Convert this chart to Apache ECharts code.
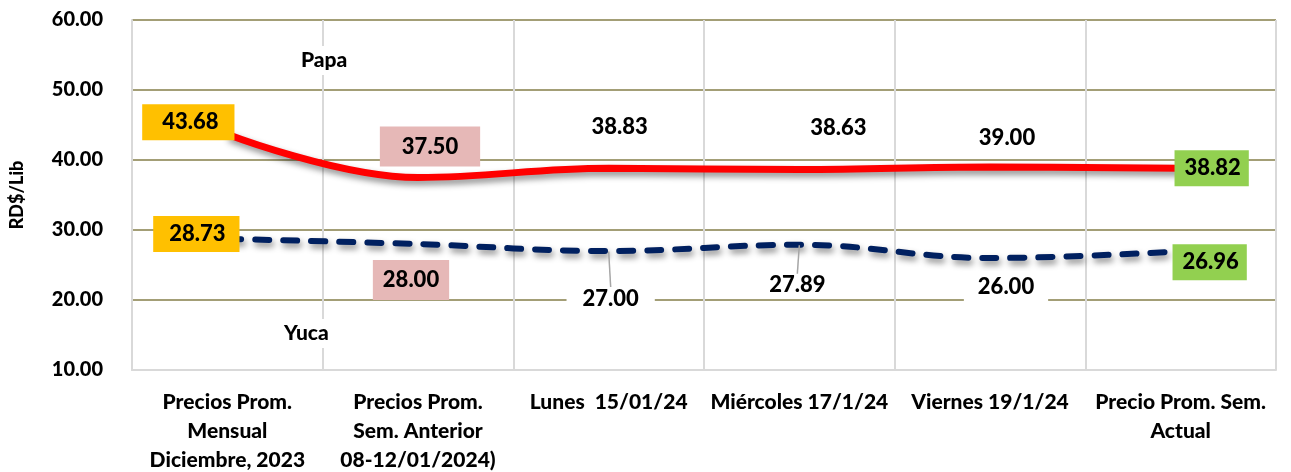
<!DOCTYPE html>
<html>
<head>
<meta charset="utf-8">
<script src="https://cdn.jsdelivr.net/npm/echarts@6/dist/echarts.min.js"></script>
<style>
    html, body { margin: 0; padding: 0; background: #fff; }
    #chart { width: 1291px; height: 472px; }
</style>
</head>
<body>
<div id="chart"></div>
<script>
    // categorias del eje X
    var categories = [
        'Precios Prom.\nMensual\nDiciembre, 2023',
        'Precios Prom.\nSem. Anterior\n08-12/01/2024)',
        'Lunes  15/01/24',
        'Miércoles 17/1/24',
        'Viernes 19/1/24',
        'Precio Prom. Sem.\nActual'
    ];
    // precios RD$/Lib
    var papa = [43.68, 37.50, 38.83, 38.63, 39.00, 38.82];
    var yuca = [28.73, 28.00, 27.00, 27.89, 26.00, 26.96];
    // eje Y
    var yMin = 10, yMax = 60, yStep = 10;

    // estilos de etiquetas (fondo y desplazamiento)
    var boxColors = ['#FFC000', '#E6B8B7', null, null, null, '#92D050'];
    var papaOffsets = [[-39, -12], [12, -31], [11, -41], [39, -42], [17, -29], [31, 0]];
    var yucaOffsets = [[-31, -5], [-7, 36], [2, 48], [-2, 40], [16, 29], [29, 11]];
    var papaPad = [[7, 16, 7, 20], [9, 22, 9, 22], [0, 0, 0, 0], [0, 0, 0, 0], [0, 0, 0, 0], [7, 8, 7, 10]];
    var yucaPad = [[7, 14, 7, 16], [9, 10, 9, 10], [1, 16, 1, 16], [0, 0, 0, 0], [5, 14, 5, 14], [7, 8, 7, 10]];
    var leaderLines = [false, false, true, true, false, false];

    var fontFam = 'Lato, "Open Sans", sans-serif';
    var fontW = 900;

    function buildData(values, pads, isYuca) {
        var out = [];
        for (var i = 0; i < values.length; i++) {
            var bg = boxColors[i] || (isYuca && pads[i][0] > 0 ? '#fff' : 'transparent');
            out.push({
                value: values[i],
                label: {
                    backgroundColor: bg,
                    padding: pads[i]
                },
                labelLine: {
                    show: isYuca && leaderLines[i]
                }
            });
        }
        return out;
    }

    var offsetsBySeries = [papaOffsets, yucaOffsets];

    var chart = echarts.init(document.getElementById('chart'));

    var labelBase = {
        show: true,
        position: 'inside',
        color: '#000',
        fontFamily: fontFam,
        fontWeight: fontW,
        fontSize: 22,
        formatter: function (p) { return p.value.toFixed(2); }
    };

    var option = {
        animation: false,
        grid: {
            left: 132,
            right: 15,
            top: 20,
            bottom: 102,
            outerBoundsMode: 'none'
        },
        xAxis: {
            type: 'category',
            data: categories,
            boundaryGap: true,
            axisTick: { show: false },
            axisLine: { lineStyle: { color: '#D9D9D9', width: 2 } },
            splitLine: { show: true, lineStyle: { color: '#D9D9D9', width: 2 } },
            axisLabel: {
                interval: 0,
                margin: 18,
                color: '#000',
                fontFamily: fontFam,
                fontWeight: fontW,
                fontSize: 21,
                lineHeight: 29
            }
        },
        yAxis: {
            type: 'value',
            min: yMin,
            max: yMax,
            interval: yStep,
            name: 'RD$/Lib',
            nameLocation: 'middle',
            nameGap: 106,
            nameRotate: 90,
            nameTextStyle: {
                color: '#000',
                fontFamily: fontFam,
                fontWeight: fontW,
                fontSize: 18
            },
            axisLine: { show: true, lineStyle: { color: '#D9D9D9', width: 2 } },
            axisTick: { show: false },
            splitLine: { lineStyle: { color: '#A39E76', width: 2 } },
            axisLabel: {
                margin: 29,
                color: '#000',
                fontFamily: fontFam,
                fontWeight: fontW,
                fontSize: 20,
                formatter: function (v) { return v.toFixed(2); }
            }
        },
        graphic: [
            {
                type: 'text', left: 297, top: 46, z: 5,
                style: {
                    text: 'Papa', fill: '#000', backgroundColor: '#fff', padding: [4, 4],
                    font: fontW + ' 21px ' + fontFam
                }
            },
            {
                type: 'text', left: 280, top: 319, z: 5,
                style: {
                    text: 'Yuca', fill: '#000', backgroundColor: '#fff', padding: [4, 4],
                    font: fontW + ' 21px ' + fontFam
                }
            }
        ],
        labelLayout: function (p) {
            var off = offsetsBySeries[p.seriesIndex][p.dataIndex];
            return { dx: off[0], dy: off[1] };
        },
        series: [
            {
                name: 'Papa',
                type: 'line',
                smooth: 0.4,
                symbol: 'circle',
                symbolSize: 1,
                itemStyle: { color: 'transparent' },
                lineStyle: {
                    color: '#FF0000',
                    width: 7,
                    shadowColor: 'rgba(0,0,0,0.45)',
                    shadowBlur: 6,
                    shadowOffsetX: 2,
                    shadowOffsetY: 4
                },
                label: labelBase,
                labelLine: { show: false },
                data: buildData(papa, papaPad, false)
            },
            {
                name: 'Yuca',
                type: 'line',
                smooth: 0.4,
                symbol: 'circle',
                symbolSize: 1,
                itemStyle: { color: 'transparent' },
                lineStyle: {
                    color: '#002060',
                    width: 6,
                    type: [14, 14],
                    cap: 'round',
                    shadowColor: 'rgba(0,0,0,0.45)',
                    shadowBlur: 6,
                    shadowOffsetX: 2,
                    shadowOffsetY: 4
                },
                label: labelBase,
                labelLine: {
                    show: true,
                    lineStyle: { color: '#A6A6A6', width: 1.5 }
                },
                data: buildData(yuca, yucaPad, true)
            }
        ]
    };

    chart.setOption(option);
    window.addEventListener('resize', function () {
        chart.resize();
    });
</script>
</body>
</html>
